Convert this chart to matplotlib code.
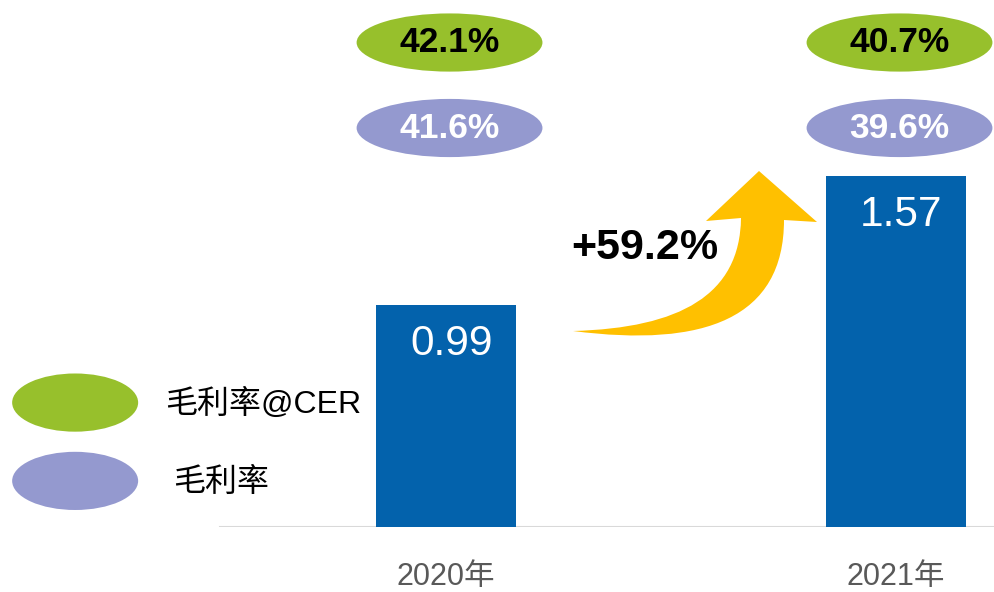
import matplotlib.pyplot as plt
from matplotlib.patches import Ellipse, PathPatch
from matplotlib.path import Path
from matplotlib.transforms import Affine2D

years = ["2020年", "2021年"]
revenue = [0.99, 1.57]
margin_cer = [42.1, 40.7]
margin = [41.6, 39.6]
growth = 59.2
legend_labels = ["毛利率@CER", "毛利率"]

blue = "#0362AC"
green = "#97C02C"
purple = "#9499CF"
yellow = "#FFC000"

plt.rcParams['font.family'] = ['Liberation Sans', 'Noto Sans CJK SC', 'DejaVu Sans']

fig = plt.figure(figsize=(9.94, 5.92), dpi=100)
ax = fig.add_axes([0, 65 / 592, 1, 527 / 592])

x = range(len(years))
ax.bar(x, revenue, width=0.311, color=blue, zorder=2)
ax.set_xlim(-0.991, 1.218)
ax.set_ylim(0, 2.355)

for s in ax.spines.values():
    s.set_visible(False)
ax.set_yticks([])
ax.axhline(0, xmin=220 / 994, xmax=1, color="#D9D9D9", lw=1.5, zorder=1)
ax.set_xticks(list(x))
ax.set_xticklabels(years, fontsize=22, color="#595959")
ax.tick_params(axis="x", length=0, pad=25.5)

# values inside bars
for i, v in enumerate(revenue):
    ax.annotate(f"{v:.2f}", (i, v), xytext=(4, -28), textcoords="offset points",
                ha="center", va="center", color="white", fontsize=30.5)

# margin ellipses above bars
ew, eh = 0.413, 0.26
for i in x:
    ax.add_patch(Ellipse((i + 0.008, 2.165), ew, eh, color=green, lw=0))
    ax.text(i + 0.008, 2.165, f"{margin_cer[i]:.1f}%", ha="center", va="center",
            fontsize=25.5, fontweight="bold", color="black")
    ax.add_patch(Ellipse((i + 0.008, 1.783), ew, eh, color=purple, lw=0))
    ax.text(i + 0.008, 1.783, f"{margin[i]:.1f}%", ha="center", va="center",
            fontsize=25.5, fontweight="bold", color="white")

# legend
lx = -0.824
ax.add_patch(Ellipse((lx, 0.556), 0.28, 0.26, color=green, lw=0))
ax.add_patch(Ellipse((lx, 0.206), 0.28, 0.26, color=purple, lw=0))
ax.text(-0.624, 0.548, legend_labels[0], ha="left", va="center", fontsize=23)
ax.text(-0.607, 0.198, legend_labels[1], ha="left", va="center", fontsize=23)

# growth arrow (drawn in pixel space, y down)
px = Affine2D().scale(1 / 994, -1 / 592).translate(0, 1) + fig.transFigure
verts = [(573, 331),
         (705, 348), (784, 318), (784, 220),
         (817, 222), (759, 171), (706, 221), (741, 218),
         (740, 295), (680, 328), (573, 331),
         (573, 331)]
codes = [Path.MOVETO,
         Path.CURVE4, Path.CURVE4, Path.CURVE4,
         Path.LINETO, Path.LINETO, Path.LINETO, Path.LINETO,
         Path.CURVE4, Path.CURVE4, Path.CURVE4,
         Path.CLOSEPOLY]
fig.patches.append(PathPatch(Path(verts, codes), facecolor=yellow, edgecolor="none",
                             transform=px))
fig.text(645 / 994, 1 - 248 / 592, f"+{growth}%", ha="center", va="center",
         fontsize=31, fontweight="bold", color="black")

fig.savefig("out.png", dpi=100)
